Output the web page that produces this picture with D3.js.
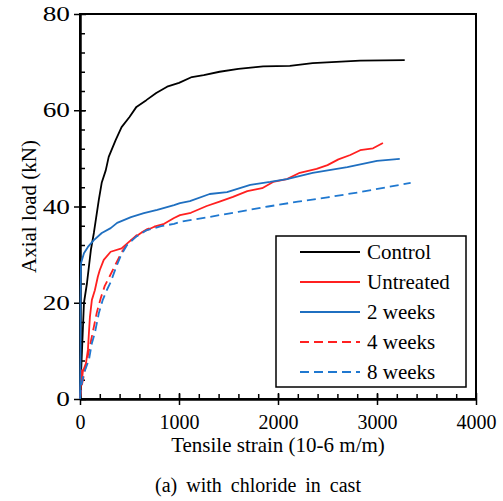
<!DOCTYPE html>
<html>
<head>
<meta charset="utf-8">
<script src="https://cdn.jsdelivr.net/npm/d3@7"></script>
<style>
  body { margin: 0; background: #fff; }
  svg text { font-family: "Liberation Serif", "Times New Roman", serif; fill: #000; }
</style>
</head>
<body>
<script>
// curves: [strain (10-6 m/m), load (kN)]
const control = [[0, 0], [10, 5], [20, 10], [40, 20], [70, 24], [110, 31], [140, 34.5], [190, 41.4], [220, 45], [260, 47.5],
  [290, 50.3], [360, 53.8], [420, 56.5], [500, 58.6], [570, 60.7], [670, 62.1], [770, 63.6], [880, 64.9], [1000, 65.7],
  [1130, 66.9], [1250, 67.3], [1410, 68], [1600, 68.6], [1850, 69.1], [2120, 69.2], [2350, 69.8], [2830, 70.3], [3280, 70.4]];
const untreated = [[0, 0], [10, 4], [20, 6], [15, 3], [30, 6], [25, 5.5], [60, 7.4], [70, 8.8], [80, 10.2], [90, 13.7],
  [100, 17], [120, 20.6], [150, 22.6], [180, 25.4], [200, 26.8], [240, 28.9], [310, 30.6], [420, 31.3], [515, 33], [615, 34.5],
  [750, 35.8], [850, 36.4], [950, 37.6], [1010, 38.2], [1120, 38.7], [1280, 40.1], [1410, 41], [1545, 42], [1690, 43.2],
  [1840, 43.8], [1950, 45.1], [2090, 45.7], [2220, 47], [2390, 47.8], [2500, 48.6], [2610, 49.8], [2730, 50.7], [2830, 51.7],
  [2960, 52.1], [3060, 53.2]];
const weeks2 = [[0, 0], [5, 10], [5, 20], [10, 28.2], [40, 30.3], [80, 31.6], [140, 33], [220, 34.5], [310, 35.5], [375, 36.6],
  [515, 37.8], [645, 38.6], [780, 39.3], [950, 40.3], [1010, 40.7], [1110, 41.1], [1310, 42.6], [1485, 43], [1720, 44.5],
  [1920, 45.1], [2090, 45.7], [2350, 47], [2700, 48.2], [3000, 49.5], [3230, 49.9]];
const weeks4 = [[0, 0], [20, 3], [50, 6], [80, 9], [110, 12], [140, 15], [170, 18], [210, 21], [250, 23.5], [300, 25.5],
  [360, 28], [420, 30.5], [490, 32.5], [570, 34], [680, 35.3], [760, 35.8]];
const weeks8 = [[0, 0], [10, 2.5], [40, 5.4], [90, 8.1], [120, 11.6], [150, 13.7], [190, 17.8], [230, 20.6], [270, 22.6],
  [310, 24.3], [365, 27.4], [415, 29.9], [475, 32], [565, 33.7], [675, 35.1], [820, 35.9], [950, 36.4], [1010, 36.8],
  [1300, 37.8], [1600, 38.9], [1900, 40], [2200, 41], [2500, 41.9], [2800, 42.9], [3100, 44], [3340, 44.9]];

const seriesNames = ["Control", "Untreated", "2 weeks", "4 weeks", "8 weeks"];
const seriesColors = ["#000000", "#ff2020", "#1f6fc0", "#ff2020", "#1f78d0"];
const seriesDashed = [false, false, false, true, true];
const seriesData = [control, untreated, weeks2, weeks4, weeks8];

const xTicks = [0, 1000, 2000, 3000, 4000];
const yTicks = [0, 20, 40, 60, 80];

const width = 503, height = 501;
const plot = { left: 80, right: 476, top: 14, bottom: 399 };
const serif = "Liberation Serif";

const svg = d3.select("body").append("svg")
  .attr("width", width)
  .attr("height", height);

const x = d3.scaleLinear().domain([0, 4000]).range([plot.left, plot.right]);
const y = d3.scaleLinear().domain([0, 80]).range([plot.bottom, plot.top]);

// frame (top and right)
svg.append("rect")
  .attr("x", plot.left).attr("y", plot.top)
  .attr("width", plot.right - plot.left).attr("height", plot.bottom - plot.top)
  .attr("fill", "none").attr("stroke", "#000").attr("stroke-width", 2);

// minor ticks, inward
svg.append("g").attr("transform", `translate(0,${plot.bottom})`)
  .call(d3.axisBottom(x).tickValues(d3.range(200, 4000, 200)).tickSize(-5).tickFormat(""))
  .call(g => g.select(".domain").remove());
svg.append("g").attr("transform", `translate(${plot.left},0)`)
  .call(d3.axisLeft(y).tickValues(d3.range(4, 80, 4)).tickSize(-5).tickFormat(""))
  .call(g => g.select(".domain").remove());

// major ticks crossing the axis
svg.append("g").attr("transform", `translate(0,${plot.bottom})`)
  .call(d3.axisBottom(x).tickValues(xTicks).tickSize(-6).tickFormat(""))
  .call(g => g.select(".domain").remove());
svg.append("g").attr("transform", `translate(${plot.left},0)`)
  .call(d3.axisLeft(y).tickValues(yTicks).tickSize(-6).tickFormat(""))
  .call(g => g.select(".domain").remove());

const xAxis = svg.append("g").attr("transform", `translate(0,${plot.bottom})`)
  .call(d3.axisBottom(x).tickValues(xTicks).tickSize(6).tickPadding(10).tickSizeOuter(0).tickFormat(d3.format("d")));
const yAxis = svg.append("g").attr("transform", `translate(${plot.left},0)`)
  .call(d3.axisLeft(y).tickValues(yTicks).tickSize(6).tickPadding(4).tickSizeOuter(0).tickFormat(d3.format("d")));

svg.selectAll(".tick line").attr("stroke", "#000").attr("stroke-width", 1.5);
xAxis.select(".domain").attr("stroke-width", 2.5);
yAxis.select(".domain").attr("stroke-width", 2.5);
xAxis.attr("font-family", serif).attr("font-size", 20);
yAxis.attr("font-family", serif).attr("font-size", 21);
svg.selectAll(".tick text").attr("fill", "#000");
// the y labels in the picture are drawn wider than the x labels
yAxis.selectAll(".tick text")
  .attr("x", -10 / 1.3)
  .attr("transform", "scale(1.3,1)");

// curves
const line = d3.line().x(d => x(d[0])).y(d => y(d[1]));
seriesData.forEach((data, i) => {
  svg.append("path")
    .datum(data)
    .attr("d", line)
    .attr("fill", "none")
    .attr("stroke", seriesColors[i])
    .attr("stroke-width", 1.8)
    .attr("stroke-linejoin", "round")
    .attr("stroke-dasharray", seriesDashed[i] ? "9,5" : null);
});

// legend
const legend = svg.append("g");
legend.append("rect")
  .attr("x", 276).attr("y", 236).attr("width", 190).attr("height", 151)
  .attr("fill", "#fff").attr("stroke", "#000").attr("stroke-width", 1.5);
seriesNames.forEach((name, i) => {
  const ly = 252 + i * 30;
  legend.append("line")
    .attr("x1", 300).attr("x2", 360).attr("y1", ly).attr("y2", ly)
    .attr("stroke", seriesColors[i]).attr("stroke-width", 1.8)
    .attr("stroke-dasharray", seriesDashed[i] ? "9,5" : null);
  legend.append("text")
    .attr("x", 367).attr("y", ly + 7)
    .attr("font-family", serif)
    .style("font-size", "21px")
    .text(name);
});

// axis titles
svg.append("text")
  .attr("x", (plot.left + plot.right) / 2).attr("y", 452)
  .attr("text-anchor", "middle")
  .attr("font-family", serif)
  .style("font-size", "21px")
  .text("Tensile strain (10-6 m/m)");

svg.append("text")
  .attr("transform", `translate(36,${(plot.top + plot.bottom) / 2}) rotate(-90)`)
  .attr("text-anchor", "middle")
  .attr("font-family", serif)
  .style("font-size", "21px")
  .text("Axial load (kN)");

svg.append("text")
  .attr("x", 258).attr("y", 492)
  .attr("text-anchor", "middle")
  .attr("font-family", serif)
  .style("font-size", "20px")
  .style("word-spacing", "4px")
  .text("(a) with chloride in cast");
</script>
</body>
</html>
